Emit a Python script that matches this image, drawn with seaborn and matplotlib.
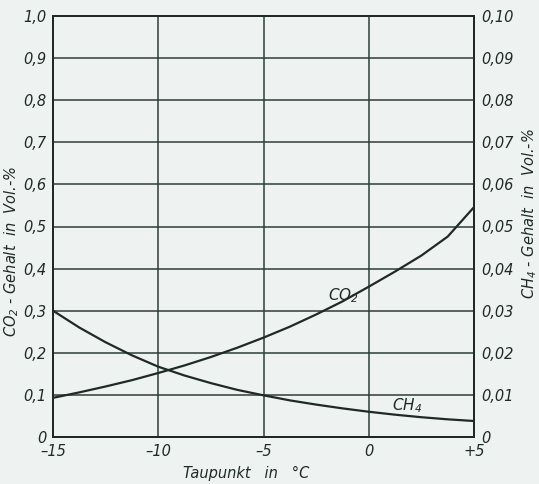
import pandas as pd
import matplotlib.pyplot as plt
import seaborn as sns

# Werte
taupunkt = [-15, -13.75, -12.5, -11.25, -10, -8.75, -7.5, -6.25, -5,
            -3.75, -2.5, -1.25, 0, 1.25, 2.5, 3.75, 5]
co2 = [0.093, 0.106, 0.120, 0.135, 0.152, 0.170, 0.190, 0.212, 0.236,
       0.262, 0.291, 0.322, 0.357, 0.393, 0.431, 0.476, 0.546]
ch4 = [0.0300, 0.0260, 0.0225, 0.0194, 0.0167, 0.0146, 0.0128, 0.0112, 0.0099,
       0.0087, 0.0077, 0.0068, 0.0060, 0.0053, 0.0047, 0.0042, 0.0038]

x_ticks = [-15, -10, -5, 0, 5]
x_labels = ["\u201315", "\u201310", "\u20135", "0", "+5"]
y_left = [0, 0.1, 0.2, 0.3, 0.4, 0.5, 0.6, 0.7, 0.8, 0.9, 1.0]
y_left_labels = ["0", "0,1", "0,2", "0,3", "0,4", "0,5", "0,6", "0,7", "0,8", "0,9", "1,0"]
y_right = [0, 0.01, 0.02, 0.03, 0.04, 0.05, 0.06, 0.07, 0.08, 0.09, 0.10]
y_right_labels = ["0", "0,01", "0,02", "0,03", "0,04", "0,05", "0,06", "0,07", "0,08", "0,09", "0,10"]

df = pd.DataFrame({"Taupunkt": taupunkt, "CO2": co2, "CH4": ch4})

sns.set_style("white")
plt.rcParams["font.family"] = ["DejaVu Sans"]
plt.rcParams["font.style"] = "italic"

bg = "#eef3f1"
ink = "#1f2a27"
grid_c = "#2e3d38"

fig = plt.figure(figsize=(5.39, 4.84), dpi=100, facecolor=bg)
ax = fig.add_axes([53 / 539, 47 / 484, 421 / 539, 421 / 484])
ax.set_facecolor(bg)
ax2 = ax.twinx()

# Gitter
for v in y_left[1:-1]:
    ax.axhline(v, color=grid_c, lw=1.1, zorder=1)
for v in x_ticks[1:-1]:
    ax.axvline(v, color=grid_c, lw=1.1, zorder=1)

sns.lineplot(data=df, x="Taupunkt", y="CO2", ax=ax, color=ink, lw=1.6, zorder=3)
sns.lineplot(data=df, x="Taupunkt", y="CH4", ax=ax2, color=ink, lw=1.6, zorder=3)

ax.set_xlim(-15, 5)
ax.set_ylim(0, 1.0)
ax2.set_ylim(0, 0.10)

ax.set_xticks(x_ticks)
ax.set_xticklabels(x_labels)
ax.set_yticks(y_left)
ax.set_yticklabels(y_left_labels)
ax2.set_yticks(y_right)
ax2.set_yticklabels(y_right_labels)

for a in (ax, ax2):
    a.tick_params(length=0, labelsize=10.5, labelcolor=ink, pad=5)
    for s in a.spines.values():
        s.set_color(ink)
        s.set_linewidth(1.4)

ax.set_xlabel("Taupunkt   in   °C", fontsize=10.5, color=ink)
ax.xaxis.set_label_coords(0.46, -0.07)
ax.set_ylabel("CO$_2$ - Gehalt  in  Vol.-%", fontsize=10.5, color=ink)
ax.yaxis.set_label_coords(-0.075, 0.44)
ax2.set_ylabel("CH$_4$ - Gehalt  in  Vol.-%", fontsize=10.5, color=ink, rotation=90)
ax2.yaxis.set_label_coords(1.11, 0.53)

ax.text(-1.2, 0.335, "CO$_2$", fontsize=11, color=ink, ha="center", va="center")
ax2.text(1.8, 0.0075, "CH$_4$", fontsize=11, color=ink, ha="center", va="center")

fig.savefig("out.png", dpi=100, facecolor=bg)
